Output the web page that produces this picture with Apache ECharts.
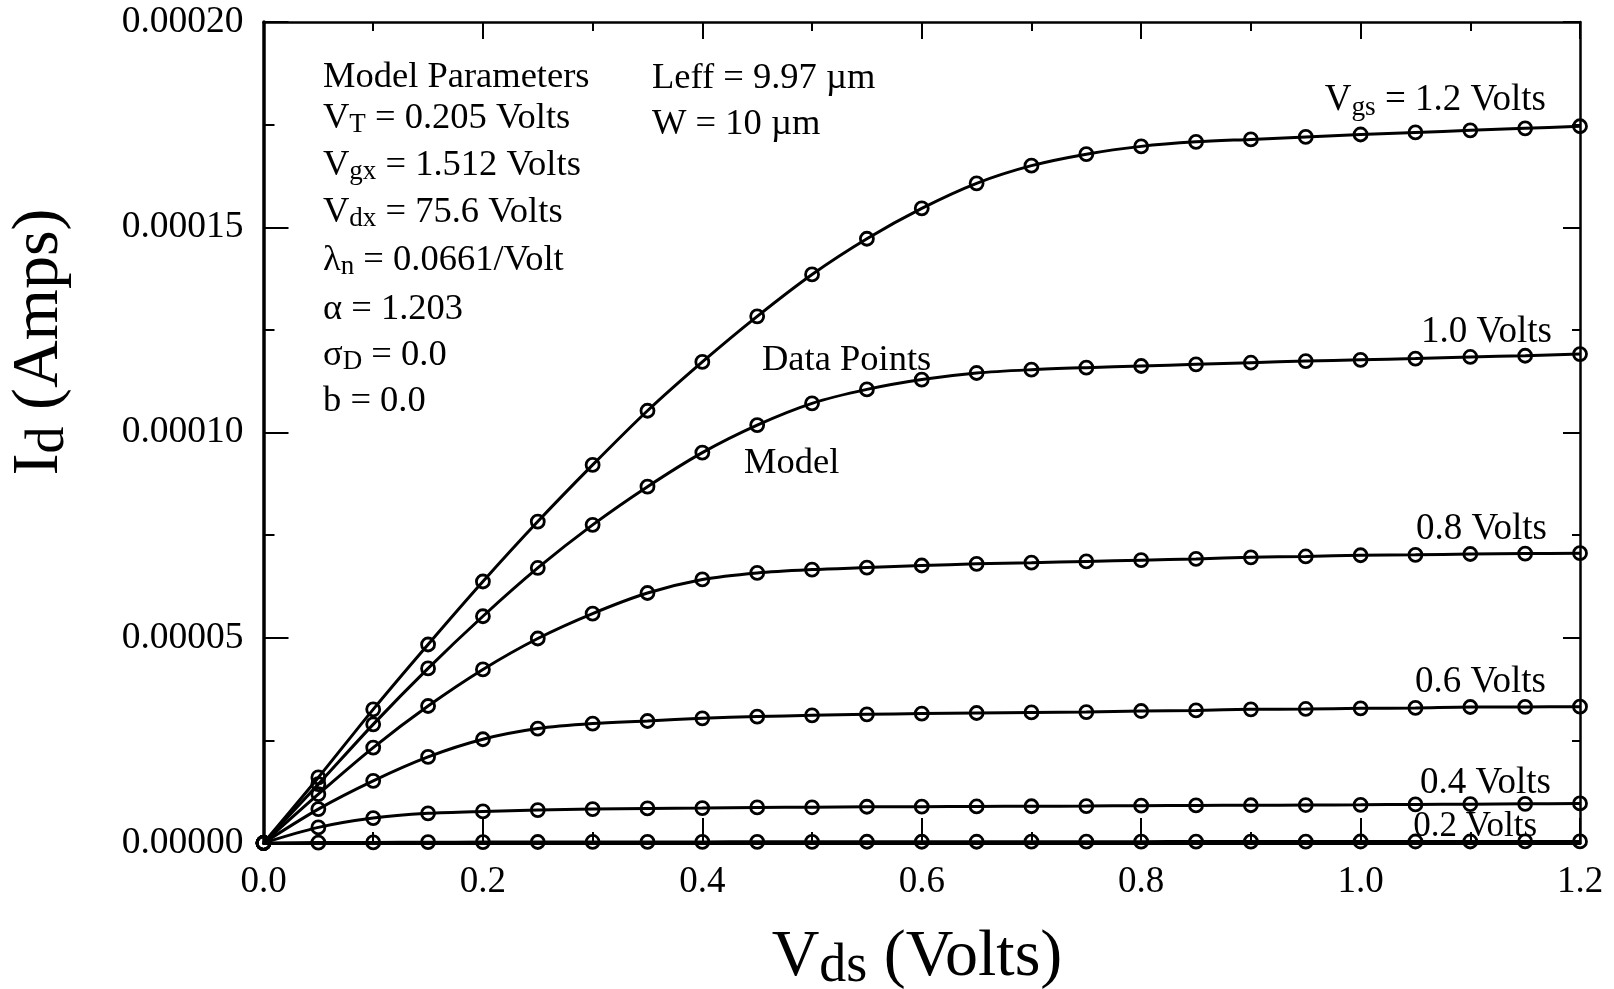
<!DOCTYPE html>
<html>
<head>
<meta charset="utf-8">
<script src="https://cdn.jsdelivr.net/npm/echarts@6/dist/echarts.min.js"></script>
<style>
html,body{margin:0;padding:0;background:#fff;}
#chart{width:1614px;height:989px;}
</style>
</head>
<body>
<div id="chart"></div>
<script>
// ---- data (Vds in volts, Id in amps) ----
const vds = [0.00,0.05,0.10,0.15,0.20,0.25,0.30,0.35,0.40,0.45,0.50,0.55,0.60,0.65,0.70,0.75,0.80,0.85,0.90,0.95,1.00,1.05,1.10,1.15,1.20];
const id_vgs12 = [0,1.597e-5,3.256e-5,4.836e-5,6.37e-5,7.83e-5,9.21e-5,1.053e-4,1.172e-4,1.283e-4,1.385e-4,1.472e-4,1.546e-4,1.607e-4,1.650e-4,1.678e-4,1.697e-4,1.708e-4,1.714e-4,1.720e-4,1.726e-4,1.731e-4,1.736e-4,1.741e-4,1.746e-4];
const id_vgs10 = [0,1.434e-5,2.89e-5,4.253e-5,5.524e-5,6.70e-5,7.75e-5,8.68e-5,9.51e-5,1.018e-4,1.071e-4,1.105e-4,1.129e-4,1.145e-4,1.153e-4,1.158e-4,1.162e-4,1.166e-4,1.170e-4,1.174e-4,1.177e-4,1.180e-4,1.184e-4,1.187e-4,1.191e-4];
const id_vgs08 = [0,1.19e-5,2.325e-5,3.337e-5,4.228e-5,4.982e-5,5.589e-5,6.09e-5,6.42e-5,6.58e-5,6.66e-5,6.71e-5,6.76e-5,6.80e-5,6.83e-5,6.86e-5,6.89e-5,6.92e-5,6.96e-5,6.98e-5,7.01e-5,7.02e-5,7.04e-5,7.05e-5,7.06e-5];
const id_vgs06 = [0,8.26e-6,1.514e-5,2.097e-5,2.527e-5,2.787e-5,2.909e-5,2.972e-5,3.038e-5,3.079e-5,3.11e-5,3.135e-5,3.152e-5,3.167e-5,3.18e-5,3.19e-5,3.215e-5,3.23e-5,3.256e-5,3.265e-5,3.28e-5,3.29e-5,3.313e-5,3.315e-5,3.321e-5];
const id_vgs04 = [0,3.8e-6,6.08e-6,7.22e-6,7.7e-6,8.02e-6,8.26e-6,8.43e-6,8.5e-6,8.67e-6,8.7e-6,8.83e-6,8.85e-6,8.9e-6,8.95e-6,9.0e-6,9.1e-6,9.15e-6,9.2e-6,9.25e-6,9.3e-6,9.4e-6,9.45e-6,9.55e-6,9.64e-6];
const id_vgs02 = [0,1.0e-7,1.5e-7,2.0e-7,2.2e-7,2.4e-7,2.5e-7,2.6e-7,2.7e-7,2.8e-7,2.9e-7,3.0e-7,3.0e-7,3.1e-7,3.2e-7,3.2e-7,3.3e-7,3.4e-7,3.4e-7,3.5e-7,3.6e-7,3.6e-7,3.7e-7,3.8e-7,3.9e-7];
const curves = [id_vgs12, id_vgs10, id_vgs08, id_vgs06, id_vgs04, id_vgs02];
const curveNames = ['Vgs = 1.2 V','Vgs = 1.0 V','Vgs = 0.8 V','Vgs = 0.6 V','Vgs = 0.4 V','Vgs = 0.2 V'];
const xTicks = {min:0, max:1.2, interval:0.2};
const yTicks = {min:0, max:0.0002, interval:0.00005};

const FONT = '"Liberation Serif", "Times New Roman", serif';

const chart = echarts.init(document.getElementById('chart'), null, {renderer:'canvas'});

const series = curves.map((vals, i) => ({
  name: curveNames[i],
  type: 'line',
  xAxisIndex: 0, yAxisIndex: 0,
  data: vals.map((v, j) => [vds[j], v]),
  smooth: 0.3,
  symbol: 'circle',
  symbolSize: 13,
  showAllSymbol: true,
  lineStyle: {color:'#000', width:3},
  itemStyle: {color:'rgba(0,0,0,0)', borderColor:'#000', borderWidth:2.8},
  emphasis: {disabled:true},
  z: 3
}));

function sub(mainSize, subSize, subLH, mainLH) {
  return {
    m: {fontSize: mainSize, fontFamily: FONT, lineHeight: mainLH, fill:'#000', color:'#000'},
    s: {fontSize: subSize, fontFamily: FONT, lineHeight: subLH, verticalAlign:'bottom', fill:'#000', color:'#000'}
  };
}

function txt(x, baseline, text, align, size) {
  size = size || 36.5;
  const rich = sub(size, size * 0.74, size * 0.51, size * 1.14);
  return {
    type:'text', x:x, y: baseline - 0.3 * size, z: 10,
    style: {text:text, rich:rich, fontSize:size, fontFamily:FONT, fill:'#000',
            align: align || 'left', verticalAlign:'middle',
            textAlign: align || 'left', textVerticalAlign:'middle'}
  };
}

const graphics = [
  txt(323, 88, '{m|Model Parameters}'),
  txt(323, 129, '{m|V}{s|T}{m| = 0.205 Volts}'),
  txt(323, 176, '{m|V}{s|gx}{m| = 1.512 Volts}'),
  txt(323, 223, '{m|V}{s|dx}{m| = 75.6 Volts}'),
  txt(323, 271, '{m|λ}{s|n}{m| = 0.0661/Volt}'),
  txt(323, 320, '{m|α = 1.203}'),
  txt(323, 366, '{m|σ}{s|D}{m| = 0.0}'),
  txt(323, 412, '{m|b = 0.0}'),
  txt(652, 89, '{m|Leff = 9.97 µm}'),
  txt(652, 135, '{m|W = 10 µm}'),
  txt(1546, 111, '{m|V}{s|gs}{m| = 1.2 Volts}', 'right', 37),
  txt(1552, 343, '{m|1.0 Volts}', 'right', 37),
  txt(1547, 540, '{m|0.8 Volts}', 'right', 37),
  txt(1546, 693, '{m|0.6 Volts}', 'right', 37),
  txt(1551, 794, '{m|0.4 Volts}', 'right', 37),
  txt(1537, 837, '{m|0.2 Volts}', 'right', 35),
  txt(762, 371, '{m|Data Points}'),
  txt(744, 474, '{m|Model}'),
  {
    type:'text', x: 917, y: 958, z:10,
    style: {text:'{m|V}{s|ds}{m| (Volts)}', rich: sub(66, 54, 37, 72), fontSize:66, fontFamily:FONT, fill:'#000',
            align:'center', verticalAlign:'middle', textAlign:'center', textVerticalAlign:'middle'}
  },
  {
    type:'text', x: 40, y: 342, rotation: Math.PI/2, z:10,
    style: {text:'{m|I}{s|d}{m| (Amps)}', rich: sub(66, 54, 37, 72), fontSize:66, fontFamily:FONT, fill:'#000',
            align:'center', verticalAlign:'middle', textAlign:'center', textVerticalAlign:'middle'}
  }
];

const tickStyle = (w) => ({color:'#000', width:w});

const option = {
  animation: false,
  backgroundColor: '#fff',
  grid: {left: 263.5, right: 34, top: 22, bottom: 146, containLabel: false},
  xAxis: [
    {
      type:'value', position:'bottom', min:xTicks.min, max:xTicks.max, interval:xTicks.interval,
      axisLine:{show:true, onZero:false, lineStyle:{color:'#000', width:3}},
      axisTick:{show:true, inside:true, length:25, lineStyle:tickStyle(2)},
      minorTick:{show:true, splitNumber:2, length:11, lineStyle:tickStyle(2)},
      splitLine:{show:false},
      axisLabel:{show:true, margin:21, fontSize:37, fontFamily:FONT, color:'#000',
                 formatter:(v)=>v.toFixed(1), showMinLabel:true, showMaxLabel:true}
    },
    {
      type:'value', position:'top', min:xTicks.min, max:xTicks.max, interval:xTicks.interval,
      axisLine:{show:true, onZero:false, lineStyle:{color:'#000', width:2.5}},
      axisTick:{show:true, inside:true, length:17, lineStyle:tickStyle(2)},
      minorTick:{show:true, splitNumber:2, length:9, lineStyle:tickStyle(2)},
      splitLine:{show:false},
      axisLabel:{show:false}
    }
  ],
  yAxis: [
    {
      type:'value', position:'left', min:yTicks.min, max:yTicks.max, interval:yTicks.interval,
      axisLine:{show:true, onZero:false, lineStyle:{color:'#000', width:3.5}},
      axisTick:{show:true, inside:true, length:25, lineStyle:tickStyle(2)},
      minorTick:{show:true, splitNumber:2, length:11, lineStyle:tickStyle(2)},
      splitLine:{show:false},
      axisLabel:{show:true, margin:20, fontSize:37.5, fontFamily:FONT, color:'#000',
                 formatter:(v)=>v.toFixed(5), showMinLabel:true, showMaxLabel:true}
    },
    {
      type:'value', position:'right', min:yTicks.min, max:yTicks.max, interval:yTicks.interval,
      axisLine:{show:true, onZero:false, lineStyle:{color:'#000', width:2.5}},
      axisTick:{show:true, inside:true, length:17, lineStyle:tickStyle(2)},
      minorTick:{show:true, splitNumber:2, length:8, lineStyle:tickStyle(2)},
      splitLine:{show:false},
      axisLabel:{show:false}
    }
  ],
  series: series,
  graphic: graphics
};
chart.setOption(option);
</script>
</body>
</html>
